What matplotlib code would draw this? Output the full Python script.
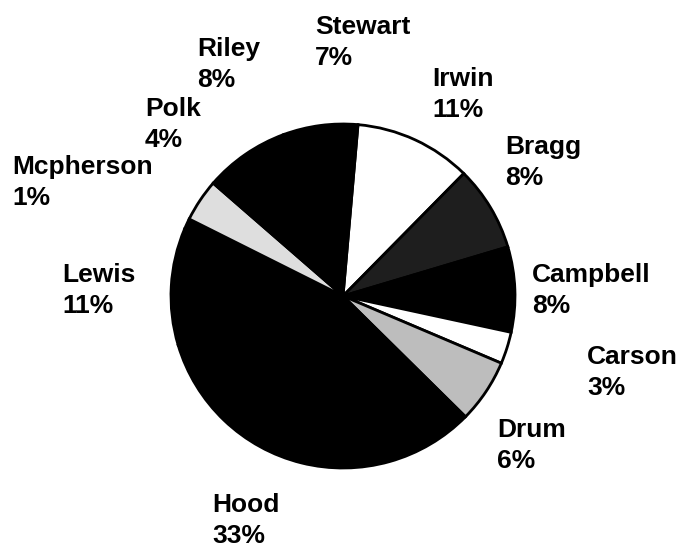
import matplotlib
matplotlib.use("Agg")
from matplotlib import pyplot as plt

# slices, clockwise from just left of 12 o'clock
names = ["Irwin", "Bragg", "Campbell", "Carson", "Drum", "Hood",
         "Lewis", "Mcpherson", "Polk", "Riley", "Stewart"]
shares = [11, 8, 8, 3, 6, 33, 11, 1, 4, 8, 7]
fills = ["#ffffff", "#1e1e1e", "#000000", "#ffffff", "#bdbdbd", "#000000",
         "#000000", "#000000", "#dedede", "#000000", "#000000"]

# label anchors (left, top) in figure pixels
label_px = {
    "Stewart": (315, 15), "Riley": (197, 37), "Irwin": (432, 67),
    "Polk": (145, 97), "Bragg": (505, 135), "Mcpherson": (12, 155),
    "Lewis": (62, 263), "Campbell": (532, 263), "Carson": (587, 345),
    "Drum": (497, 418), "Hood": (212, 493),
}

W, H = 677, 550
fig = plt.figure(figsize=(W / 100, H / 100), dpi=100)
fig.patch.set_facecolor("white")

cx, cy, r = 343, 296, 172
pad = 180
ax = fig.add_axes([(cx - pad) / W, 1 - (cy + pad) / H, 2 * pad / W, 2 * pad / H])
ax.pie(shares, colors=fills, startangle=85, counterclock=False,
       wedgeprops=dict(edgecolor="black", linewidth=2))
ax.set_xlim(-pad / r, pad / r)
ax.set_ylim(-pad / r, pad / r)
ax.set_axis_off()

for name, v in zip(names, shares):
    x, y = label_px[name]
    fig.text(x / W, 1 - y / H, f"{name}\n{v}%", ha="left", va="top",
             fontsize=19, fontweight="bold", family="Liberation Sans",
             linespacing=1.36, color="black")

fig.savefig("out.png", dpi=100, facecolor="white")
